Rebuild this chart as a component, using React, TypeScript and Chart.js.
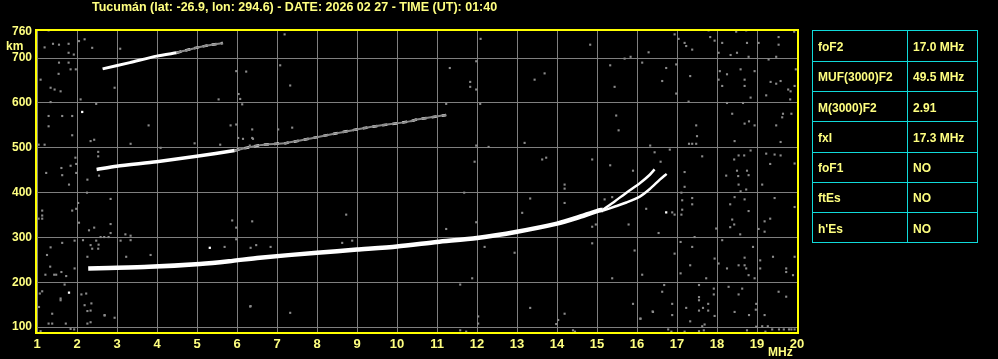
import React, { useEffect, useRef } from 'react';
import { Chart, registerables } from 'chart.js';

Chart.register(...registerables);

const TITLE = 'Tucumán (lat: -26.9, lon: 294.6) - DATE: 2026 02 27 - TIME (UT): 01:40';
const X_TICKS = [1, 2, 3, 4, 5, 6, 7, 8, 9, 10, 11, 12, 13, 14, 15, 16, 17, 18, 19, 20];
const Y_TICKS = [100, 200, 300, 400, 500, 600, 700, 760];
const X_UNIT = 'MHz';
const Y_UNIT = 'km';

const TABLE_LABELS = ['foF2', 'MUF(3000)F2', 'M(3000)F2', 'fxI', 'foF1', 'ftEs', "h'Es"];
const TABLE_VALUES = ['17.0 MHz', '49.5 MHz', '2.91', '17.3 MHz', 'NO', 'NO', 'NO'];

// First-hop F trace (common part), then O and X branches
const F1_FREQ = [2.28, 2.8, 3.8, 5.07, 5.8, 6.57, 8.0, 9.0, 10.0, 11.0, 12.0, 13.0, 14.0, 14.5, 15.0, 15.15];
const F1_HEIGHT = [231, 232, 234.5, 241, 247, 255, 266, 273, 280, 290, 299, 313, 331, 344, 359, 362];
const O_FREQ = [15.15, 15.45, 15.735, 16.07, 16.32, 16.44];
const O_HEIGHT = [362, 381, 400, 421, 440, 452];
const X_FREQ = [15.15, 15.45, 15.735, 16.07, 16.32, 16.57, 16.74];
const X_HEIGHT = [360, 369, 378, 391, 408, 429, 442];

// Second-hop trace: solid part then sparse part
const F2_FREQ = [2.49, 2.99, 3.99, 4.99, 5.94];
const F2_HEIGHT = [451.5, 459, 469, 481, 494];
const F2B_FREQ = [5.94, 6.57, 7.24, 7.9, 8.4, 9.24, 10.32, 10.5, 11.23];
const F2B_HEIGHT = [494, 506, 511, 522, 531, 545, 559, 563, 573];

// Third-hop trace
const F3_FREQ = [2.64, 3.32, 3.99, 4.49];
const F3_HEIGHT = [676, 690, 704.5, 712];
const F3B_FREQ = [4.49, 5.07, 5.65];
const F3B_HEIGHT = [712, 725, 734];

// Scattered interference echoes [MHz, km]
const NOISE_LOW: number[][] = [
  [1.29, 762], [1.19, 724], [1.40, 732], [1.55, 730], [1.79, 732], [1.79, 712], [2.05, 738], [2.19, 742], [2.38, 723],
  [1.92, 708], [1.55, 690], [1.79, 690], [1.84, 675], [1.97, 675], [1.54, 665], [1.09, 652], [1.34, 634], [1.44, 630],
  [1.59, 626], [1.34, 602], [2.09, 608], [2.48, 598], [1.29, 571], [1.63, 571], [1.88, 571], [1.29, 548], [1.88, 528],
  [2.34, 515], [2.43, 518], [1.04, 507], [1.19, 507], [1.96, 478], [1.61, 455], [1.84, 460], [1.98, 464], [1.23, 444],
  [1.63, 439], [1.98, 444], [2.26, 429], [1.80, 418], [2.53, 491], [2.53, 481], [2.55, 438], [2.94, 634], [3.08, 721],
  [3.34, 509], [3.79, 550], [4.09, 500], [4.94, 510], [5.58, 507], [5.54, 608], [5.84, 550], [5.98, 552], [5.98, 671],
  [6.23, 670], [6.04, 620], [6.08, 609], [6.13, 597], [6.38, 541], [6.38, 522], [6.03, 522], [6.15, 520], [6.32, 505],
  [6.40, 520], [1.04, 342], [1.13, 360], [1.13, 349], [1.13, 342], [2.03, 377], [1.88, 360], [1.98, 364], [2.05, 333],
  [2.25, 400], [2.30, 316], [2.43, 322], [2.84, 386], [2.84, 330], [2.84, 310], [2.15, 294], [2.34, 283], [2.48, 293],
  [2.59, 301], [2.68, 301], [2.79, 301], [3.09, 293], [3.21, 307], [3.34, 304], [3.34, 294], [2.54, 284], [2.38, 275],
  [2.53, 275], [2.26, 257], [1.34, 278], [1.63, 288], [1.94, 293], [1.25, 261], [1.33, 235], [1.94, 231], [1.61, 223],
  [1.21, 217], [1.48, 217], [1.73, 214], [1.43, 217], [3.23, 257], [3.84, 261], [5.69, 279], [5.98, 296], [5.88, 338],
  [5.98, 322], [6.38, 336], [6.34, 277], [6.48, 283], [1.69, 195], [1.13, 180], [1.07, 175], [2.11, 173], [2.23, 175],
  [1.59, 164], [1.59, 160], [2.19, 149], [2.36, 153], [2.26, 136], [2.34, 137], [1.05, 145], [1.38, 130], [1.29, 108],
  [1.38, 108], [1.72, 108], [1.84, 96], [1.93, 95], [2.26, 108], [2.34, 111], [2.69, 127], [2.94, 121], [1.09, 91],
  [6.34, 147], [2.69, 126],
];
const NOISE_MID: number[][] = [
  [7.19, 753], [7.08, 684], [7.33, 639], [12.09, 743], [11.98, 693], [11.32, 678], [11.83, 647], [11.83, 636],
  [11.98, 630], [12.08, 598], [11.23, 598], [14.83, 730], [15.84, 703], [15.69, 699], [15.33, 684], [13.44, 652],
  [13.69, 666], [15.44, 636], [15.48, 572], [15.54, 539], [11.98, 505], [12.29, 502], [13.19, 511], [11.94, 469],
  [13.63, 474], [13.73, 478], [14.88, 474], [15.33, 461], [15.90, 449], [7.03, 541], [7.38, 545], [8.73, 351],
  [6.84, 279], [8.63, 288], [8.88, 293], [11.23, 319], [11.68, 400], [11.98, 334], [12.19, 279], [12.94, 266],
  [13.13, 355], [13.33, 387], [14.19, 418], [14.19, 409], [14.19, 377], [14.88, 324], [14.88, 287], [14.97, 329],
  [15.79, 329], [15.94, 271], [15.19, 385], [15.38, 390], [11.88, 209], [11.58, 195], [7.33, 132], [13.33, 143],
  [14.19, 130], [14.03, 116], [13.98, 107], [12.03, 124], [12.03, 108], [15.38, 209], [15.90, 152], [11.58, 93],
  [11.73, 90], [14.40, 93], [14.45, 90], [6.33, 146], [16.09, 119], [16.39, 135], [16.68, 194], [16.63, 179],
];
const NOISE_HIGH: number[][] = [
  [16.94, 753], [17.04, 743], [17.19, 734], [17.38, 719], [17.23, 727], [17.79, 762], [17.83, 747], [17.94, 739],
  [18.13, 734], [18.04, 712], [18.34, 707], [18.48, 759], [18.73, 762], [18.50, 712], [18.75, 734], [19.04, 734],
  [19.54, 747], [19.54, 730], [19.93, 759], [19.48, 703], [18.79, 703], [16.29, 713], [16.13, 690], [16.98, 686],
  [16.73, 678], [16.63, 649], [17.33, 660], [16.98, 621], [17.29, 603], [18.07, 671], [18.04, 652], [18.25, 664],
  [18.13, 638], [18.59, 675], [18.69, 652], [18.69, 638], [18.94, 671], [18.84, 612], [19.29, 697], [19.34, 647],
  [19.48, 643], [19.59, 649], [19.78, 630], [19.84, 626], [19.94, 638], [19.97, 675], [19.23, 617], [19.83, 608],
  [18.25, 600], [18.65, 600], [19.65, 576], [19.86, 576], [19.63, 568], [18.38, 576], [17.48, 550], [17.50, 526],
  [17.30, 509], [17.38, 509], [17.48, 509], [18.80, 559], [18.69, 554], [18.94, 550], [19.48, 550], [19.59, 513],
  [18.44, 515], [16.33, 505], [16.82, 496], [16.44, 490], [16.59, 469], [17.63, 481], [17.19, 446], [17.19, 413],
  [18.23, 438], [18.43, 474], [18.54, 483], [18.68, 483], [18.84, 494], [19.23, 487], [19.44, 485], [19.59, 483],
  [19.33, 464], [19.94, 465], [18.50, 449], [18.75, 449], [18.53, 437], [18.79, 439], [18.54, 418], [18.73, 407],
  [18.59, 403], [19.13, 418], [17.11, 400], [17.13, 383], [17.38, 388], [17.38, 374], [17.13, 362], [17.11, 351],
  [16.94, 351], [16.88, 356], [16.23, 364], [18.44, 390], [18.69, 385], [18.33, 374], [18.79, 359], [19.44, 388],
  [19.94, 368], [18.38, 340], [18.43, 329], [18.33, 323], [19.19, 336], [19.33, 342], [19.04, 319], [19.19, 313],
  [18.58, 307], [17.98, 320], [16.54, 310], [17.44, 301], [17.09, 290], [18.13, 294], [18.90, 279], [17.38, 279],
  [16.94, 264], [17.94, 253], [18.04, 242], [18.25, 231], [18.69, 255], [18.54, 238], [18.69, 238], [18.73, 231],
  [18.79, 216], [18.94, 209], [19.08, 249], [19.08, 231], [19.40, 257], [19.73, 231], [19.73, 223], [19.94, 257],
  [19.90, 216], [16.13, 217], [17.33, 238], [17.09, 220], [17.73, 209], [17.55, 194], [17.55, 167], [17.55, 160],
  [17.92, 186], [17.92, 173], [18.29, 190], [18.63, 186], [18.54, 173], [19.54, 179], [19.73, 168], [18.98, 152],
  [18.97, 139], [18.44, 134], [18.80, 127], [19.19, 127], [16.88, 152], [16.40, 134], [16.88, 127], [17.23, 143],
  [17.65, 143], [17.78, 152], [17.55, 137], [17.78, 137], [17.94, 125], [17.33, 113], [17.63, 102], [17.69, 106],
  [17.55, 91], [17.67, 93], [16.86, 90], [17.19, 90], [16.78, 95], [16.08, 119], [18.98, 101], [19.13, 102],
  [19.27, 102], [19.38, 95], [19.55, 95], [19.67, 95], [19.80, 95], [19.86, 95], [19.94, 95], [18.75, 93], [19.21, 90],
];
const NOISE_WHITE: number[][] = [[2.13, 580], [1.80, 177], [5.32, 277], [16.73, 356]];

const FONT = '"Liberation Sans", Arial, sans-serif';
const TEXT_YELLOW = '#ffff80';
const AXIS_YELLOW = '#ffff00';
const GRID_GRAY = '#7f7f7f';
const NOISE_GRAY = '#8a8a8a';
const CYAN = '#10dada';

const pts = (xs: number[], ys: number[]) => xs.map((x, i) => ({ x, y: ys[i] }));
const pairs = (arr: number[][]) => arr.map(([x, y]) => ({ x, y }));

const decorPlugin = {
  id: 'decor',
  beforeDraw(chart: any) {
    const ctx = chart.ctx;
    ctx.save();
    ctx.fillStyle = '#000';
    ctx.fillRect(0, 0, chart.width, chart.height);
    ctx.restore();
  },
  afterDraw(chart: any) {
    const ctx = chart.ctx;
    const a = chart.chartArea;
    ctx.save();
    // yellow frame
    ctx.fillStyle = AXIS_YELLOW;
    const L = Math.round(a.left) - 2;
    const R = Math.round(a.right);
    const T = Math.round(a.top);
    const B = Math.round(a.bottom) - 1;
    ctx.fillRect(L, T, R - L + 2, 2);
    ctx.fillRect(L, B, R - L + 2, 2);
    ctx.fillRect(L, T, 2, B - T + 2);
    ctx.fillRect(R, T, 2, B - T + 2);

    // title
    ctx.fillStyle = TEXT_YELLOW;
    ctx.font = `bold 12.5px ${FONT}`;
    ctx.textAlign = 'left';
    ctx.textBaseline = 'alphabetic';
    ctx.fillText(TITLE, 92, 11, 406);

    // units
    ctx.font = `bold 12px ${FONT}`;
    ctx.fillText(Y_UNIT, 6, 50);
    ctx.fillText(X_UNIT, 768, 356);

    // parameter table
    const x0 = 812.5, x1 = 977.5, xc = 907.5, y0 = 30.5, rowH = 30.25;
    const n = TABLE_LABELS.length;
    ctx.strokeStyle = CYAN;
    ctx.lineWidth = 1;
    ctx.strokeRect(x0, y0, x1 - x0, Math.round(rowH * n));
    ctx.beginPath();
    for (let i = 1; i < n; i++) {
      const y = Math.round(y0 + i * rowH) + 0.5;
      ctx.moveTo(x0, y);
      ctx.lineTo(x1, y);
    }
    ctx.moveTo(xc, y0);
    ctx.lineTo(xc, y0 + Math.round(rowH * n));
    ctx.stroke();
    ctx.fillStyle = TEXT_YELLOW;
    ctx.font = `bold 12px ${FONT}`;
    for (let i = 0; i < n; i++) {
      const yb = y0 + i * rowH + 20.5;
      ctx.fillText(TABLE_LABELS[i], 818, yb);
      ctx.fillText(TABLE_VALUES[i], 913, yb);
    }
    ctx.restore();
  },
};

export default function App() {
  const ref = useRef<HTMLCanvasElement | null>(null);

  useEffect(() => {
    document.body.style.margin = '0';
    document.body.style.background = '#000';
    const canvas = ref.current;
    if (!canvas) return;

    const traceLine = (data: any[], width: number, color = '#ffffff', dash: number[] = []) => ({
      type: 'scatter',
      data,
      showLine: true,
      borderColor: color,
      backgroundColor: color,
      borderWidth: width,
      borderDash: dash,
      pointRadius: 0,
      tension: 0.25,
      borderCapStyle: 'butt',
    });

    const chart = new Chart(canvas, {
      type: 'scatter',
      data: {
        datasets: [
          {
            data: [...pairs(NOISE_LOW), ...pairs(NOISE_MID), ...pairs(NOISE_HIGH)],
            pointStyle: 'rect',
            pointRadius: 1.5,
            backgroundColor: NOISE_GRAY,
            borderWidth: 0,
          },
          {
            data: pairs(NOISE_WHITE),
            pointStyle: 'rect',
            pointRadius: 1.6,
            backgroundColor: '#ffffff',
            borderWidth: 0,
          },
          traceLine(pts(F2B_FREQ, F2B_HEIGHT), 2, '#8a8a8a'),
          traceLine(pts(F2B_FREQ, F2B_HEIGHT), 2.5, '#ffffff', [5, 5]),
          traceLine(pts(F3B_FREQ, F3B_HEIGHT), 2, '#8a8a8a'),
          traceLine(pts(F3B_FREQ, F3B_HEIGHT), 2.5, '#ffffff', [5, 4]),
          traceLine(pts(F3_FREQ, F3_HEIGHT), 3),
          traceLine(pts(F2_FREQ, F2_HEIGHT), 3.5),
          traceLine(pts(O_FREQ, O_HEIGHT), 2.5),
          traceLine(pts(X_FREQ, X_HEIGHT), 2.5),
          traceLine(pts(F1_FREQ, F1_HEIGHT), 4.5),
        ] as any,
      },
      options: {
        responsive: false,
        animation: false,
        events: [],
        layout: { padding: { left: 0, right: 201, top: 29, bottom: 0 } },
        plugins: {
          legend: { display: false },
          title: { display: false },
          tooltip: { enabled: false },
        },
        scales: {
          x: {
            type: 'linear',
            min: 1,
            max: 20,
            afterBuildTicks: (s: any) => {
              s.ticks = X_TICKS.map((v) => ({ value: v }));
            },
            afterFit: (s: any) => {
              s.height = 26;
              s.paddingLeft = 0;
              s.paddingRight = 0;
            },
            border: { display: false },
            grid: { color: GRID_GRAY, lineWidth: 1, drawTicks: false },
            ticks: {
              color: TEXT_YELLOW,
              font: { family: FONT, size: 13, weight: 'bold' },
              padding: 4,
              autoSkip: false,
              maxRotation: 0,
              callback: (v: any) => String(v),
            },
          },
          y: {
            type: 'linear',
            min: 87,
            max: 765,
            afterBuildTicks: (s: any) => {
              s.ticks = Y_TICKS.map((v) => ({ value: v }));
            },
            afterFit: (s: any) => {
              s.width = 37;
              s.paddingTop = 0;
              s.paddingBottom = 0;
            },
            border: { display: false },
            grid: {
              color: (c: any) => (c.tick && c.tick.value === 760 ? 'rgba(0,0,0,0)' : GRID_GRAY),
              lineWidth: 1,
              drawTicks: false,
            },
            ticks: {
              color: TEXT_YELLOW,
              font: { family: FONT, size: 12, weight: 'bold' },
              padding: 5,
              autoSkip: false,
              callback: (v: any) => String(v),
            },
          },
        },
      } as any,
      plugins: [decorPlugin],
    });

    return () => chart.destroy();
  }, []);

  return (
    <div style={{ position: 'absolute', left: 0, top: 0, width: 998, height: 359, background: '#000' }}>
      <canvas ref={ref} width={998} height={359} style={{ display: 'block', width: 998, height: 359 }} />
    </div>
  );
}
